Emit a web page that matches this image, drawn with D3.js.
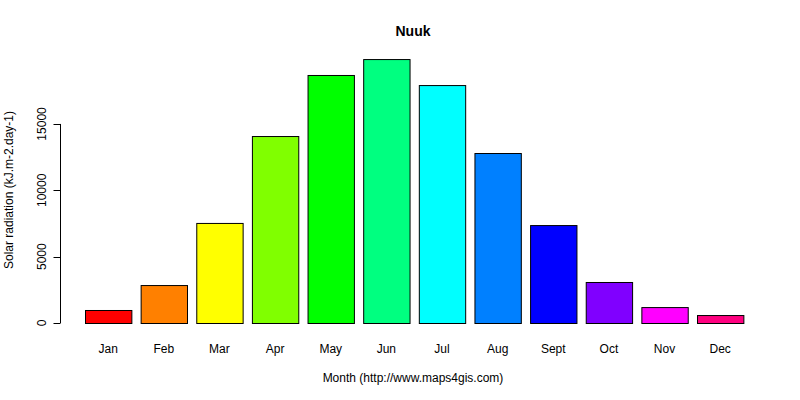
<!DOCTYPE html>
<html>
<head>
<meta charset="utf-8">
<script src="https://cdn.jsdelivr.net/npm/d3@7"></script>
<style>
body { margin: 0; background: #fff; }
text { font-family: "Liberation Sans", Arial, sans-serif; font-size: 12px; fill: #000; }
</style>
</head>
<body>
<svg width="800" height="400"></svg>
<script>
var months = ["Jan","Feb","Mar","Apr","May","Jun","Jul","Aug","Sept","Oct","Nov","Dec"];
var radiation = [980, 2860, 7540, 14090, 18690, 19890, 17930, 12810, 7380, 3090, 1200, 600];
var colors = ["#FF0000","#FF8000","#FFFF00","#80FF00","#00FF00","#00FF80","#00FFFF","#0080FF","#0000FF","#8000FF","#FF00FF","#FF0080"];
var yTicks = [0, 5000, 10000, 15000];

var svg = d3.select("svg");

// barplot units: bar i spans 0.2+1.2i .. 1.2+1.2i
var x = d3.scaleLinear().domain([0.2, 13.4]).range([85, 697]);
var y = d3.scaleLinear().domain([0, 20000]).range([323, 57.6]);
var bw = x(1) - x(0);

svg.append("g").selectAll("rect")
  .data(radiation)
  .enter().append("rect")
  .attr("x", function(d, i) { return x(0.2 + 1.2 * i) + 0.5; })
  .attr("y", function(d) { return y(d) + 0.5; })
  .attr("width", bw)
  .attr("height", function(d) { return y(0) - y(d); })
  .style("fill", function(d, i) { return colors[i]; })
  .style("stroke", "#000")
  .style("stroke-width", 1);

svg.append("g").selectAll("text")
  .data(months)
  .enter().append("text")
  .attr("x", function(d, i) { return x(0.7 + 1.2 * i); })
  .attr("y", 353)
  .attr("text-anchor", "middle")
  .text(function(d) { return d; });

var yAxis = svg.append("g").attr("transform", "translate(60.5,0)");
yAxis.append("line")
  .attr("y1", y(0)).attr("y2", y(15000))
  .style("stroke", "#000");
yTicks.forEach(function(t) {
  yAxis.append("line")
    .attr("x1", 0).attr("x2", -7)
    .attr("y1", Math.round(y(t)) + 0.5).attr("y2", Math.round(y(t)) + 0.5)
    .style("stroke", "#000");
  yAxis.append("text")
    .attr("transform", "translate(-15," + y(t) + ") rotate(-90)")
    .attr("text-anchor", "middle")
    .text(t);
});

svg.append("text")
  .attr("x", 413).attr("y", 36)
  .attr("text-anchor", "middle")
  .style("font-weight", "bold")
  .style("font-size", "14px")
  .text("Nuuk");

svg.append("text")
  .attr("x", 413).attr("y", 382)
  .attr("text-anchor", "middle")
  .text("Month (http://www.maps4gis.com)");

svg.append("text")
  .attr("transform", "translate(13,190) rotate(-90)")
  .attr("text-anchor", "middle")
  .text("Solar radiation (kJ.m-2.day-1)");
</script>
</body>
</html>
